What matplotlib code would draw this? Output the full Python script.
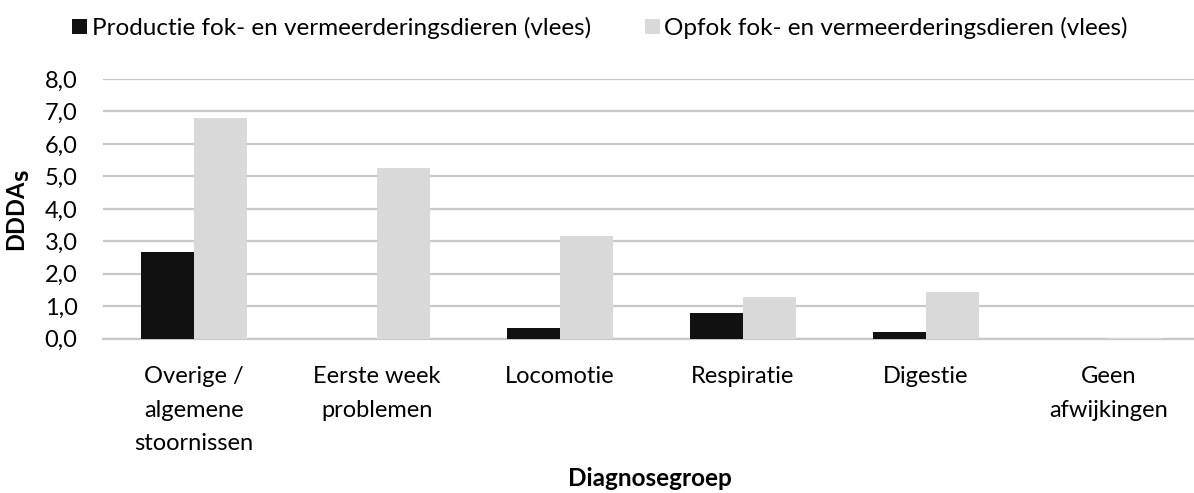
import matplotlib.pyplot as plt
import numpy as np

categories = ["Overige /\nalgemene\nstoornissen", "Eerste week\nproblemen", "Locomotie",
              "Respiratie", "Digestie", "Geen\nafwijkingen"]
productie = [2.66, 0.0, 0.32, 0.80, 0.21, 0.0]
opfok = [6.79, 5.27, 3.16, 1.29, 1.44, 0.01]
series_names = ["Productie fok- en vermeerderingsdieren (vlees)",
                "Opfok fok- en vermeerderingsdieren (vlees)"]
yticks = [0, 1, 2, 3, 4, 5, 6, 7, 8]

plt.rcParams['font.family'] = ['Lato', 'DejaVu Sans']

fig = plt.figure(figsize=(11.94, 4.93), dpi=100)
ax = fig.add_axes([102.5 / 1194, 1 - 338.7 / 493, 1098 / 1194, 259.7 / 493])

x = np.arange(len(categories))
w = 0.287
b1 = ax.bar(x - w / 2, productie, w, color="#111111", zorder=3, label=series_names[0])
b2 = ax.bar(x + w / 2, opfok, w, color="#d9d9d9", zorder=3, label=series_names[1])

ax.set_xlim(-0.5, len(categories) - 0.5)
ax.set_ylim(0, 8)
ax.set_yticks(yticks)
ax.set_yticklabels([f"{v:.1f}".replace(".", ",") for v in yticks], fontsize=17)
ax.set_xticks(x)
ax.set_xticklabels(categories, fontsize=17, linespacing=1.72, va="top")
ax.tick_params(axis="both", length=0)
ax.tick_params(axis="x", pad=20)
ax.tick_params(axis="y", pad=18)
ax.grid(axis="y", color="#c8c8c8", linewidth=1.6, zorder=0)
for s in ["top", "right", "left"]:
    ax.spines[s].set_visible(False)
ax.spines["bottom"].set_color("#c8c8c8")
ax.spines["bottom"].set_linewidth(1.6)

fig.text(19 / 1194, 1 - 210 / 493, r"DDDA$_\mathbf{S}$", rotation=90, fontsize=17,
         fontweight="bold", ha="center", va="center")
fig.text(650 / 1194, 1 - 478 / 493, "Diagnosegroep", fontsize=17.5, fontweight="bold",
         ha="center", va="center")

fig.legend(handles=[b1, b2], loc="center", bbox_to_anchor=(600 / 1194, 1 - 28 / 493),
           ncol=2, frameon=False, fontsize=17.5, handlelength=0.62, handleheight=0.62,
           handletextpad=0.2, columnspacing=2.2)

fig.savefig("out.png", dpi=100)
